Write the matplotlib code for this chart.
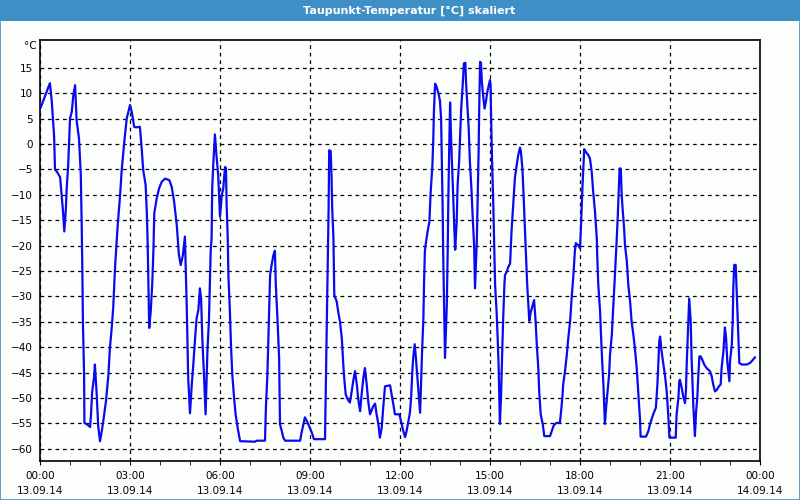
import pandas as pd
import matplotlib
matplotlib.use("Agg")
import matplotlib.pyplot as plt
import matplotlib.dates as mdates
from matplotlib.patches import Rectangle

# Zeit in Stunden ab 13.09.14 00:00, Taupunkt in °C
stunden = [
    0.03, 0.33, 0.39, 0.43, 0.47, 0.50, 0.57, 0.67, 0.70, 0.76, 0.81, 0.86, 0.89, 0.94,
    1.00, 1.06, 1.11, 1.17, 1.22, 1.30, 1.36, 1.39, 1.41, 1.43, 1.47, 1.48, 1.57, 1.67,
    1.70, 1.74, 1.80, 1.83, 1.89, 1.94, 2.00, 2.06, 2.11, 2.20, 2.28, 2.33, 2.39, 2.44,
    2.50, 2.53, 2.59, 2.67, 2.72, 2.81, 2.89, 3.00, 3.06, 3.14, 3.20, 3.33, 3.39, 3.44,
    3.52, 3.56, 3.59, 3.61, 3.64, 3.69, 3.74, 3.78, 3.81, 3.89, 3.97, 4.06, 4.17, 4.31,
    4.39, 4.47, 4.56, 4.63, 4.69, 4.76, 4.83, 4.86, 4.89, 4.94, 5.00, 5.06, 5.11, 5.17,
    5.22, 5.28, 5.33, 5.37, 5.41, 5.47, 5.52, 5.58, 5.63, 5.69, 5.72, 5.74, 5.78, 5.83,
    5.89, 5.94, 5.98, 6.00, 6.06, 6.11, 6.14, 6.17, 6.20, 6.22, 6.26, 6.28, 6.33, 6.37,
    6.41, 6.47, 6.52, 6.59, 6.67, 7.17, 7.22, 7.50, 7.53, 7.58, 7.61, 7.64, 7.67, 7.72,
    7.78, 7.83, 7.86, 7.92, 7.97, 8.00, 8.06, 8.11, 8.17, 8.67, 8.72, 8.78, 8.83, 8.89,
    8.97, 9.06, 9.13, 9.50, 9.53, 9.56, 9.59, 9.62, 9.64, 9.69, 9.72, 9.74, 9.78, 9.81,
    9.89, 9.94, 10.00, 10.06, 10.11, 10.14, 10.19, 10.26, 10.33, 10.39, 10.44, 10.50,
    10.56, 10.61, 10.67, 10.72, 10.78, 10.83, 10.89, 10.94, 11.00, 11.06, 11.11, 11.17,
    11.22, 11.28, 11.33, 11.39, 11.44, 11.50, 11.67, 11.72, 11.78, 11.83, 11.98, 12.06,
    12.11, 12.17, 12.22, 12.28, 12.33, 12.37, 12.41, 12.44, 12.49, 12.53, 12.58, 12.63,
    12.67, 12.70, 12.74, 12.78, 12.80, 12.83, 12.87, 12.92, 12.98, 13.02, 13.08, 13.11,
    13.13, 13.17, 13.22, 13.28, 13.33, 13.37, 13.39, 13.42, 13.44, 13.47, 13.50, 13.56,
    13.59, 13.61, 13.64, 13.67, 13.70, 13.73, 13.78, 13.81, 13.84, 13.89, 13.92, 13.97,
    14.00, 14.04, 14.09, 14.13, 14.18, 14.20, 14.24, 14.29, 14.33, 14.38, 14.42, 14.47,
    14.50, 14.56, 14.59, 14.62, 14.64, 14.67, 14.70, 14.73, 14.78, 14.82, 14.87, 14.91,
    14.96, 15.00, 15.02, 15.04, 15.07, 15.11, 15.14, 15.17, 15.22, 15.26, 15.29, 15.31,
    15.33, 15.37, 15.41, 15.44, 15.48, 15.50, 15.56, 15.61, 15.67, 15.72, 15.78, 15.83,
    15.89, 15.94, 16.00, 16.03, 16.08, 16.11, 16.14, 16.19, 16.24, 16.28, 16.31, 16.36,
    16.41, 16.47, 16.52, 16.56, 16.61, 16.64, 16.69, 16.76, 16.81, 17.00, 17.06, 17.13,
    17.22, 17.33, 17.37, 17.41, 17.44, 17.50, 17.56, 17.61, 17.67, 17.72, 17.78, 17.83,
    17.86, 17.94, 18.00, 18.03, 18.08, 18.11, 18.14, 18.19, 18.28, 18.33, 18.39, 18.44,
    18.50, 18.56, 18.58, 18.61, 18.67, 18.70, 18.74, 18.78, 18.81, 18.83, 18.87, 18.92,
    18.97, 19.00, 19.06, 19.09, 19.13, 19.17, 19.22, 19.26, 19.29, 19.32, 19.36, 19.39,
    19.42, 19.47, 19.50, 19.56, 19.61, 19.67, 19.72, 19.78, 19.83, 19.89, 19.94, 20.00,
    20.02, 20.20, 20.28, 20.33, 20.44, 20.53, 20.58, 20.61, 20.64, 20.67, 20.72, 20.78,
    20.83, 20.89, 20.94, 20.98, 21.19, 21.22, 21.28, 21.31, 21.33, 21.39, 21.44, 21.50,
    21.53, 21.56, 21.61, 21.64, 21.69, 21.72, 21.78, 21.83, 21.87, 21.91, 21.94, 21.98,
    22.02, 22.08, 22.14, 22.22, 22.33, 22.39, 22.44, 22.50, 22.56, 22.63, 22.69, 22.72,
    22.78, 22.83, 22.87, 22.91, 22.98, 23.00, 23.06, 23.09, 23.11, 23.14, 23.19, 23.22,
    23.26, 23.31, 23.39, 23.56, 23.67, 23.76, 23.83,
]
taupunkt = [
    7.3, 12.0, 8.6, 5.0, 1.6, -5.0, -5.5, -6.5, -8.6, -12.7, -17.2, -13.0, -8.7, -4.1,
    5.0, 6.4, 9.6, 11.6, 4.7, 1.1, -6.1, -16.0, -24.0, -35.0, -45.4, -54.9, -55.2, -55.7,
    -53.2, -48.7, -46.0, -43.4, -49.3, -55.5, -58.5, -56.5, -54.5, -50.6, -45.4, -40.2, -36.2, -32.3,
    -24.5, -21.5, -16.0, -10.0, -5.4, 0.5, 5.0, 7.7, 6.3, 3.4, 3.3, 3.4, -0.9, -5.1,
    -8.0, -13.3, -19.9, -26.0, -36.2, -33.0, -27.7, -21.0, -13.6, -10.7, -8.7, -7.4, -6.8, -7.1,
    -8.4, -11.3, -16.0, -21.8, -23.8, -22.0, -18.2, -25.0, -31.7, -46.0, -53.0, -47.3, -43.4, -38.2,
    -34.3, -32.6, -28.4, -30.4, -38.2, -46.0, -53.2, -40.8, -34.9, -21.0, -18.5, -8.7, -3.5, 1.9,
    -2.8, -6.1, -11.3, -14.3, -10.0, -8.7, -6.4, -4.5, -4.8, -11.7, -18.9, -25.8, -33.0, -40.2,
    -45.4, -50.0, -53.2, -55.9, -58.5, -58.6, -58.4, -58.4, -51.9, -45.4, -38.9, -32.3, -25.8, -23.8,
    -21.9, -21.0, -27.7, -34.9, -42.1, -55.2, -56.5, -57.8, -58.4, -58.4, -56.8, -55.2, -53.8, -54.5,
    -55.5, -56.8, -58.1, -58.1, -47.0, -35.5, -24.5, -12.7, -1.2, -1.4, -6.8, -12.7, -18.2, -29.7,
    -31.0, -33.0, -35.0, -38.2, -43.4, -46.0, -49.3, -50.3, -50.9, -48.7, -46.7, -44.7,
    -47.3, -50.3, -52.6, -49.3, -46.0, -44.1, -47.3, -50.6, -53.2, -52.3, -51.6, -51.1,
    -53.2, -55.2, -57.8, -55.9, -51.9, -47.7, -47.5, -49.3, -51.3, -53.2, -53.2, -55.2,
    -56.5, -57.7, -56.5, -54.5, -52.9, -50.0, -44.8, -42.1, -39.4, -42.1, -46.0, -50.0,
    -52.9, -47.3, -40.2, -34.3, -27.7, -21.0, -19.2, -17.2, -15.3, -9.7, -4.1, 1.1,
    6.3, 11.9, 11.3, 10.0, 8.6, 5.0, -1.5, -12.0, -21.8, -32.0, -42.1, -31.7,
    -21.0, -11.3, -0.9, 8.2, 1.8, -3.5, -11.3, -16.6, -20.8, -15.3, -8.1, -3.5,
    1.1, 7.0, 11.6, 15.9, 16.0, 12.3, 8.3, 3.1, -3.5, -8.7, -14.0, -19.9,
    -28.4, -19.2, -10.0, -1.5, 7.0, 16.2, 16.0, 12.2, 9.0, 7.0, 8.6, 10.3,
    11.6, 12.6, 11.6, 4.4, -3.5, -12.0, -19.9, -27.7, -33.0, -38.9, -44.1, -49.7,
    -55.1, -49.3, -40.2, -34.3, -27.7, -25.8, -25.1, -24.2, -23.5, -16.9, -11.3, -6.7,
    -4.1, -2.2, -0.7, -1.5, -4.8, -8.7, -13.3, -20.5, -27.7, -31.7, -34.8, -33.0,
    -32.0, -30.7, -34.9, -39.5, -44.1, -48.7, -53.2, -55.2, -57.5, -57.5, -56.5, -55.3,
    -54.9, -54.9, -52.6, -50.0, -47.3, -44.7, -41.5, -38.2, -34.9, -30.4, -25.8, -21.0,
    -19.5, -19.9, -20.5, -16.6, -8.7, -4.8, -1.0, -1.5, -2.2, -2.8, -5.4, -9.4,
    -13.3, -18.6, -23.0, -27.7, -33.0, -37.6, -42.8, -47.3, -51.9, -55.1, -51.9, -48.7,
    -45.4, -41.5, -37.6, -34.3, -29.8, -25.1, -19.2, -14.0, -9.4, -4.8, -4.8, -10.0,
    -12.7, -16.6, -19.9, -23.0, -27.7, -31.0, -34.9, -37.6, -40.2, -44.1, -48.7, -54.2,
    -57.6, -57.6, -56.5, -55.2, -53.2, -51.9, -47.3, -43.4, -38.9, -37.9, -40.8, -43.4,
    -45.4, -48.7, -53.2, -57.8, -57.8, -53.2, -50.0, -46.7, -46.4, -48.0, -49.7, -51.0,
    -48.7, -42.8, -34.9, -30.4, -34.9, -42.1, -51.9, -57.5, -52.6, -50.0, -46.0, -41.8,
    -41.8, -42.5, -43.4, -44.1, -44.7, -45.7, -47.3, -48.7, -48.4, -47.7, -47.3, -44.1,
    -40.8, -36.1, -38.2, -42.8, -46.7, -42.8, -39.5, -34.9, -28.4, -23.8, -23.8, -28.4,
    -34.9, -43.1, -43.4, -43.4, -43.1, -42.5, -42.0,
]
y_ticks = list(range(-60, 20, 5))

start = pd.Timestamp("2014-09-13 00:00")
zeit = start + pd.to_timedelta(stunden, unit="h")

tlo = "#fcfefc"
niebieski = "#3d8fc6"

fig = plt.figure(figsize=(8, 5), dpi=100, facecolor=tlo)
fig.patches.append(Rectangle((0, 0.958), 1, 0.042, transform=fig.transFigure,
                             facecolor=niebieski, edgecolor="none", zorder=0))
fig.patches.append(Rectangle((0.0006, 0.001), 0.9988, 0.998, transform=fig.transFigure,
                             facecolor="none", edgecolor=niebieski, linewidth=1.2, zorder=5))
fig.text(0.511, 0.979, "Taupunkt-Temperatur [°C] skaliert", color="white",
         ha="center", va="center", fontsize=8, fontweight="bold")

ax = fig.add_axes([0.05, 0.078, 0.9, 0.842])
ax.set_facecolor(tlo)
ax.plot(zeit, taupunkt, color="#0a0aee", linewidth=1.6, zorder=3)

ax.set_xlim(start, start + pd.Timedelta(hours=24))
ax.set_ylim(-62.4, 20.5)
ax.set_yticks(y_ticks)
ax.xaxis.set_major_locator(mdates.HourLocator(byhour=range(0, 24, 3)))
ax.xaxis.set_minor_locator(mdates.HourLocator())
ax.xaxis.set_major_formatter(mdates.DateFormatter("%H:%M\n%d.%m.%y"))

ax.grid(True, which="major", color="black", linestyle=(0, (3, 3)), linewidth=0.9)
ax.tick_params(axis="y", length=0, pad=5, labelsize=7.5)
ax.tick_params(axis="x", which="major", length=3, direction="out", pad=4, labelsize=7.5)
ax.tick_params(axis="x", which="minor", length=3, direction="out")
for lab in ax.get_xticklabels():
    lab.set_linespacing(1.6)
for s in ax.spines.values():
    s.set_color("black")
    s.set_linewidth(1.2)

fig.text(0.038, 0.908, "°C", fontsize=7.5, ha="center", va="center")

fig.savefig("out.png", dpi=100, facecolor=tlo)
